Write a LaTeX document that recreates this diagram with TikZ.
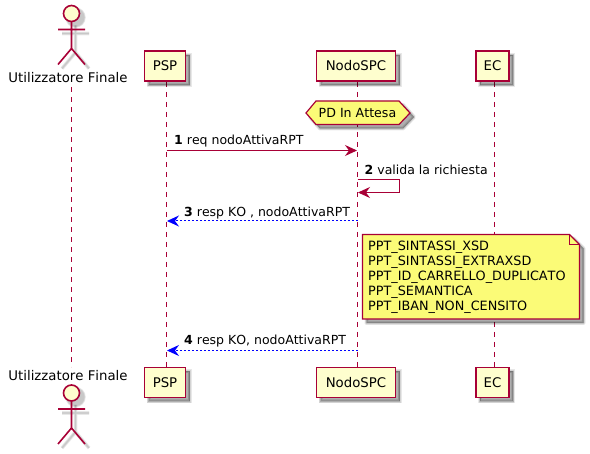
\documentclass[tikz,border=0pt]{standalone}
\usepackage{fontspec}
\setmainfont{DejaVu Sans}[RawFeature=-kern]
\usetikzlibrary{arrows.meta,shadows}
\definecolor{pumlred}{HTML}{A80036}
\definecolor{pumlfill}{HTML}{FEFECE}
\definecolor{pumlnote}{HTML}{FBFB77}
\newcommand{\softshadow}[1]{%
  \foreach \w in {4,2.6,1.2,0.2}{%
    \path[shift={(4,4)},draw=black,fill=black,draw opacity=.09,fill opacity=.09,line width=\w pt,line join=round] #1;}}
\newcommand{\stickman}[3]{% x, head y, name
  \begin{scope}[shift={(#1,#2)}]
    \foreach \w in {3.6,2.4,1.2}{%
      \draw[shift={(4,4)},black,opacity=.08,line width=\w pt] (0,8)--(0,35) (-13.5,16)--(13.5,16) (0,35)--(-13.5,51) (0,35)--(13.5,51);
      \fill[shift={(4,4)},black,opacity=.08] (0,0) circle (8.5+\w/2);}
    \draw[actorline] (0,8)--(0,35) (-13.5,16)--(13.5,16) (0,35)--(-13.5,51) (0,35)--(13.5,51);
    \node[actorhead] (#3) at (0,0) {};
  \end{scope}}
\tikzset{
  px/.style={x=1pt,y=-1pt},
  softbox/.style={
    general shadow={shadow xshift=4pt,shadow yshift=-4pt,draw=black,fill=black,opacity=.09,line width=4pt},
    general shadow={shadow xshift=4pt,shadow yshift=-4pt,draw=black,fill=black,opacity=.09,line width=2.6pt},
    general shadow={shadow xshift=4pt,shadow yshift=-4pt,draw=black,fill=black,opacity=.09,line width=1.2pt},
    general shadow={shadow xshift=4pt,shadow yshift=-4pt,draw=black,fill=black,opacity=.09,line width=.2pt}},
  participant/.style={softbox,draw=pumlred,fill=pumlfill,line width=1.5pt,inner sep=0pt,
    minimum height=30pt,font=\fontsize{13.3}{16}\selectfont},
  actorline/.style={color=pumlred,line width=1.6pt},
  actorhead/.style={circle,draw=pumlred,fill=pumlfill,line width=1.6pt,minimum size=16pt,inner sep=0pt},
  actorname/.style={inner sep=0pt,anchor=base,font=\fontsize{13.3}{16}\selectfont},
  lifeline/.style={color=pumlred,line width=1pt,dash pattern=on 5pt off 5pt},
  msg/.style={color=pumlred,line width=1.1pt,-{Stealth[length=12pt,width=11pt,inset=4pt]}},
  reply/.style={color=blue,line width=1pt,dash pattern=on 2pt off 2pt,-{Stealth[length=12pt,width=11pt,inset=4pt]}},
  msgtext/.style={anchor=base west,inner sep=0pt,font=\fontsize{12.5}{15}\selectfont},
  notetext/.style={anchor=north west,inner sep=0pt,align=left,font=\fontsize{12.8}{15}\selectfont},
  pumlshape/.style={draw=pumlred,fill=pumlnote,line width=1.2pt}
}
\begin{document}
\begin{tikzpicture}[px]
\useasboundingbox (0,0) rectangle (590,454);
% lifeline ends
\coordinate (l0a) at (71.5,87); \coordinate (l0b) at (71.5,367);
\coordinate (l1a) at (166.5,82); \coordinate (l1b) at (166.5,367);
\coordinate (l2a) at (357.5,82); \coordinate (l2b) at (357.5,367);
\coordinate (l3a) at (494,82); \coordinate (l3b) at (494,367);
\draw[lifeline,line width=1.4pt] (l0a) -- (l0b);
\draw[lifeline] (l1a) -- (l1b);
\draw[lifeline] (l2a) -- (l2b);
\draw[lifeline] (l3a) -- (l3b);
% participants
\node[participant,minimum width=41pt] (psp) at (165,66) {PSP};
\node[participant,minimum width=79pt] (nodo) at (356,66) {NodoSPC};
\node[participant,minimum width=33pt] (ec) at (492.5,66) {EC};
\node[participant,minimum width=41pt] (pspb) at (165,382.5) {PSP};
\node[participant,minimum width=79pt] (nodob) at (356,382.5) {NodoSPC};
\node[participant,minimum width=33pt] (ecb) at (492.5,382.5) {EC};
\node[actorname] (ut) at (68,83) {Utilizzatore Finale};
\node[actorname] (utb) at (68,381) {Utilizzatore Finale};
% actors
\stickman{71.5}{13.5}{acttop}
\stickman{71.5}{393}{actbot}
% hexagon
\softshadow{(306,113)--(316,101)--(399,101)--(410,113)--(399,124.5)--(316,124.5)--cycle}
\draw[pumlshape] (306,113)--(316,101)--(399,101)--(410,113)--(399,124.5)--(316,124.5)--cycle;
\node[inner sep=0pt,anchor=base,font=\fontsize{12.6}{15}\selectfont] (hex) at (357.5,117.5) {PD In Attesa};
% messages
\coordinate (m1a) at (166.5,150.5); \coordinate (m1b) at (357,150.5);
\draw[msg] (m1a) -- (m1b);
\node[msgtext] (t1) at (174,145) {\textbf{1} req nodoAttivaRPT};
\coordinate (m2a) at (357.5,179.5); \coordinate (m2b) at (399.5,179.5);
\coordinate (m2c) at (399.5,192.5); \coordinate (m2d) at (358,192.5);
\draw[msg] (m2a) -- (m2b) -- (m2c) -- (m2d);
\node[msgtext] (t2) at (364.5,175) {\textbf{2} valida la richiesta};
\coordinate (m3a) at (357.5,221); \coordinate (m3b) at (167,221);
\draw[reply] (m3a) -- (m3b);
\node[msgtext] (t3) at (184,216.5) {\textbf{3} resp KO , nodoAttivaRPT};
\coordinate (m4a) at (357.5,350.5); \coordinate (m4b) at (167,350.5);
\draw[reply,line width=1.1pt] (m4a) -- (m4b);
\node[msgtext] (t4) at (184,345) {\textbf{4} resp KO, nodoAttivaRPT};
% note
\softshadow{(362.5,234.5)--(569.5,234.5)--(579.5,244.5)--(579.5,319)--(362.5,319)--cycle}
\draw[pumlshape] (362.5,234.5)--(569.5,234.5)--(579.5,244.5)--(579.5,319)--(362.5,319)--cycle;
\draw[pumlred,line width=1.2pt] (569.5,234.5)--(569.5,244.5)--(579.5,244.5);
\node[notetext] (note) at (368,241) {PPT\_SINTASSI\_XSD\\PPT\_SINTASSI\_EXTRAXSD\\PPT\_ID\_CARRELLO\_DUPLICATO\\PPT\_SEMANTICA\\PPT\_IBAN\_NON\_CENSITO};
\end{tikzpicture}
\end{document}
